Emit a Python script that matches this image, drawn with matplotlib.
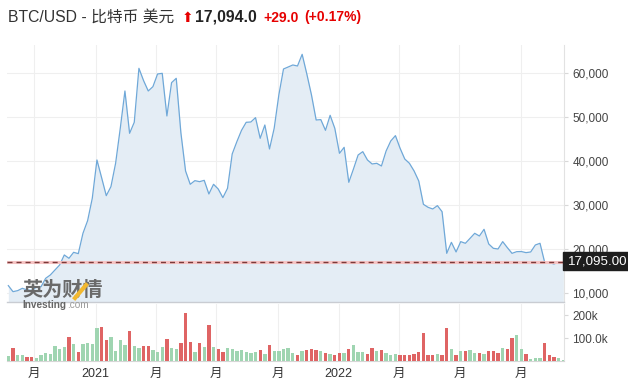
import numpy as np
import matplotlib
matplotlib.use("Agg")
import matplotlib.pyplot as plt
import matplotlib.dates as mdates
from matplotlib.lines import Line2D
from matplotlib.patches import Rectangle
import datetime as dt

# ---------------- data ----------------
start_date = dt.date(2020, 8, 23)
price = [11670, 10300, 10530, 11060, 10700, 10600, 11300, 11400, 13330, 14090,
         15230, 16360, 18640, 17880, 19240, 18940, 23560, 26440, 31520, 40230,
         36210, 32120, 34170, 39470, 47420, 55910, 46290, 48790, 61060, 58260,
         55910, 56890, 59770, 59920, 50230, 57800, 58790, 46400, 37730, 34700,
         35530, 35300, 35600, 32500, 34700, 33640, 31670, 33790, 41590, 44390,
         46970, 48790, 48860, 49850, 45150, 48180, 42730, 47420, 55000, 60910,
         61360, 61820, 61590, 64240, 59770, 55000, 49320, 49400, 46970, 50380,
         47420, 41740, 43100, 35150, 38180, 41360, 42120, 40230, 39320, 39470,
         38860, 42270, 44550, 45760, 42880, 40450, 39470, 37730, 35450, 30150,
         29470, 29090, 29850, 28480, 19010, 21510, 19320, 21670, 21290, 22420,
         23560, 22950, 24470, 21140, 20150, 20000, 21670, 20300, 19010, 19390,
         19420, 19170, 19320, 20910, 21290, 16970, 16890, 16590, 16970, 17094]
volume_k = [20, 55, 25, 25, 19, 19, 14, 25, 36, 32, 64, 51, 59, 103, 72, 41, 72, 77, 72, 142,
            146, 91, 103, 42, 90, 68, 129, 64, 55, 64, 64, 46, 38, 59, 94, 55, 51, 77, 207, 81,
            38, 77, 59, 155, 59, 51, 38, 55, 51, 42, 46, 38, 33, 38, 46, 29, 68, 42, 42, 51,
            55, 33, 25, 42, 46, 51, 46, 42, 36, 29, 25, 33, 33, 51, 68, 38, 38, 29, 55, 42,
            46, 33, 25, 29, 25, 25, 25, 29, 38, 120, 25, 25, 29, 25, 142, 51, 25, 42, 42, 46,
            33, 33, 29, 42, 42, 33, 55, 51, 99, 112, 51, 29, 7, 14, 14, 77, 25, 16, 12, 4]
last_marker = 17095.0
price_ticks = [10000, 20000, 30000, 40000, 50000, 60000]
price_tick_labels = ["10,000", "20,000", "30,000", "40,000", "50,000", "60,000"]
vol_ticks = [100000, 200000]
vol_tick_labels = ["100.0k", "200k"]
x_tick_dates = [dt.date(2020, 10, 1), dt.date(2021, 1, 1), dt.date(2021, 4, 1),
                dt.date(2021, 7, 1), dt.date(2021, 10, 1), dt.date(2022, 1, 1),
                dt.date(2022, 4, 1), dt.date(2022, 7, 1), dt.date(2022, 10, 1)]
x_tick_labels = ["月", "2021", "月", "月", "月", "2022", "月", "月", "月"]

dates = [start_date + dt.timedelta(days=7 * i) for i in range(len(price))]
volume = [v * 1000 for v in volume_k]
up = [True] + [price[i] >= price[i - 1] for i in range(1, len(price))]

# ---------------- figure ----------------
W, H = 628, 383
fig = plt.figure(figsize=(W / 100, H / 100), dpi=100)
fig.patch.set_facecolor("white")
plt.rcParams['font.family'] = ['Liberation Sans', 'Noto Sans CJK SC', 'DejaVu Sans']

def fx(px):
    return px / W

def fy(py):
    return 1 - py / H

ax_l, ax_r = 7, 564
ax = fig.add_axes([fx(ax_l), fy(302), fx(ax_r - ax_l), fy(45) - fy(302)])
axv = fig.add_axes([fx(ax_l), fy(361), fx(ax_r - ax_l), fy(304) - fy(361)], sharex=ax)

xlim = (mdates.date2num(start_date - dt.timedelta(days=2)),
        mdates.date2num(start_date + dt.timedelta(days=834)))

grid_c = "#efefef"
line_c = "#6fa8d8"
fill_c = "#e4edf5"

# price panel
ax.fill_between(dates, price, 0, color=fill_c, lw=0, zorder=1)
ax.plot(dates, price, color=line_c, lw=0.9, zorder=3)
ax.axhline(last_marker, color="#f6c4c4", lw=2.2, zorder=4)
ax.axhline(last_marker, color="#7a3a3a", lw=1.0, dashes=(3.6, 2.9), zorder=5)
ax.set_ylim(7950, 66360)
ax.set_xlim(*xlim)
ax.set_yticks(price_ticks)
ax.set_yticklabels(price_tick_labels)
ax.yaxis.tick_right()
ax.tick_params(axis='y', length=3, color="#d8d8d8", labelsize=8.5, labelcolor="#444", pad=3)
ax.set_xticks([mdates.date2num(d) for d in x_tick_dates])
ax.tick_params(axis='x', length=0, labelbottom=False)
ax.grid(True, color=grid_c, lw=0.8, zorder=0)
ax.set_axisbelow(True)
for s in ["left", "top"]:
    ax.spines[s].set_visible(False)
ax.spines["bottom"].set_color("#c9ccd2")
ax.spines["bottom"].set_linewidth(1.0)
ax.spines["right"].set_color("#e2e2e2")

# volume panel
bar_cols = ["#9fd5b1" if u else "#df6464" for u in up]
axv.bar(dates, volume, width=5, color=bar_cols, lw=0, zorder=3)
axv.set_ylim(0, 248000)
axv.set_xlim(*xlim)
axv.set_yticks(vol_ticks)
axv.set_yticklabels(vol_tick_labels)
axv.yaxis.tick_right()
axv.tick_params(axis='y', length=3, color="#d8d8d8", labelsize=8.5, labelcolor="#444", pad=3)
axv.set_xticks([mdates.date2num(d) for d in x_tick_dates])
axv.set_xticklabels(x_tick_labels)
axv.tick_params(axis='x', length=0, labelsize=9, labelcolor="#333", pad=5)
axv.grid(True, axis='x', color=grid_c, lw=0.8, zorder=0)
axv.set_axisbelow(True)
for s in ["left", "top"]:
    axv.spines[s].set_visible(False)
axv.spines["bottom"].set_color("#d6d6d6")
axv.spines["right"].set_color("#e2e2e2")

# last price label box
fig.patches.append(Rectangle((fx(563), fy(270)), fx(70), fy(252) - fy(270),
                             transform=fig.transFigure, color="#1e1e1e", zorder=10))
fig.text(fx(568), fy(261.5), "17,095.00", color="white", fontsize=9.6,
         va="center", ha="left", zorder=11)

# title
ty = fy(17.5)
fig.text(fx(8), ty, "BTC/USD - 比特币 美元", fontsize=11.3, color="#333333", va="center", ha="left")
fig.text(fx(181.5), ty, "⬆", fontsize=10, color="#e60000", va="center", ha="left",
         family=["DejaVu Sans"])
fig.text(fx(195), ty, "17,094.0", fontsize=11.3, color="#222222", va="center", ha="left",
         fontweight="bold")
fig.text(fx(263), ty, "+29.0", fontsize=10, color="#e60000", va="center", ha="left",
         fontweight="bold")
fig.text(fx(304), ty, "(+0.17%)", fontsize=10, color="#e60000", va="center", ha="left",
         fontweight="bold")

# watermark
fig.text(fx(22), fy(289), "英为财情", fontsize=14.5, color="#6a6a6a", va="center", ha="left",
         fontweight="bold", family=["Noto Sans CJK SC"], zorder=6)
fig.lines.append(Line2D([fx(75), fx(86)], [fy(298), fy(285)], transform=fig.transFigure,
                        color="#f2b830", lw=3.0, zorder=7))
fig.text(fx(22), fy(304.5), "Investing", fontsize=7.2, color="#666666", va="center", ha="left",
         fontweight="bold", zorder=6)
fig.text(fx(67), fy(304.5), ".com", fontsize=7.2, color="#9a9a9a", va="center", ha="left",
         zorder=6)

fig.savefig("out.png", dpi=100)
